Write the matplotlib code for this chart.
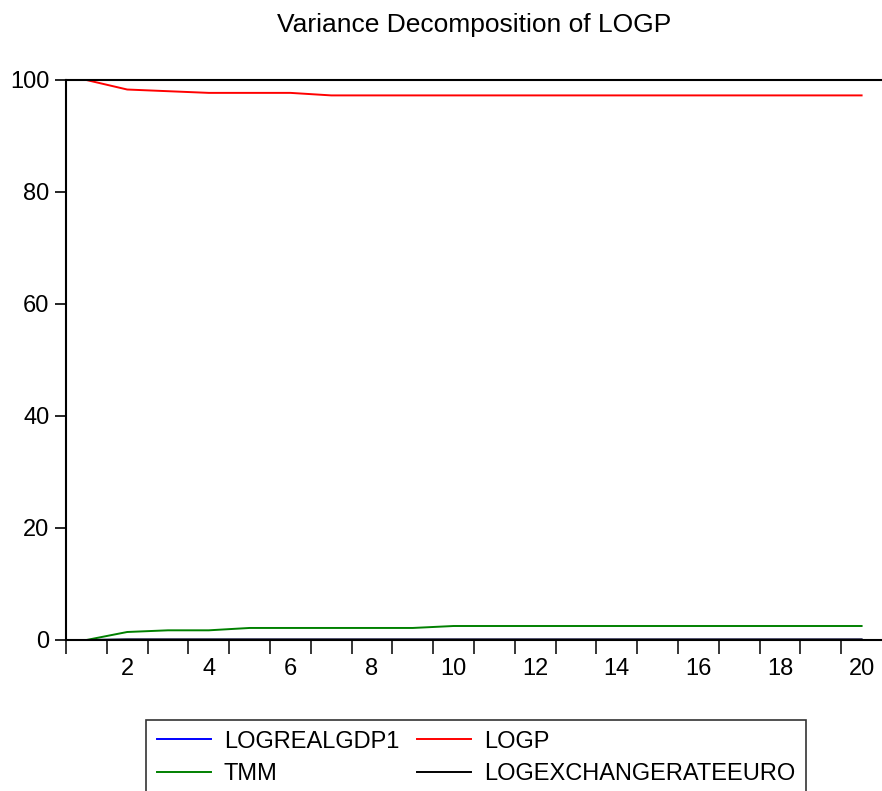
import matplotlib.pyplot as plt
import numpy as np

plt.rcParams['font.family'] = ['Liberation Sans', 'DejaVu Sans']

# periods and variance decomposition shares (percent)
periods = np.arange(1, 21)
logrealgdp1 = [0.0, 0.05, 0.05, 0.05, 0.05, 0.05, 0.05, 0.05, 0.05, 0.05,
               0.05, 0.05, 0.05, 0.05, 0.05, 0.05, 0.05, 0.05, 0.05, 0.05]
logp = [100.0, 98.3, 98.0, 97.7, 97.7, 97.7, 97.25, 97.25, 97.25, 97.25,
        97.25, 97.25, 97.25, 97.25, 97.25, 97.25, 97.25, 97.25, 97.25, 97.25]
tmm = [0.0, 1.43, 1.73, 1.73, 2.15, 2.15, 2.15, 2.15, 2.15, 2.5,
       2.5, 2.5, 2.5, 2.5, 2.5, 2.5, 2.5, 2.5, 2.5, 2.5]
logexch = [0.0, 0.1, 0.1, 0.1, 0.1, 0.1, 0.1, 0.1, 0.1, 0.1,
           0.1, 0.1, 0.1, 0.1, 0.1, 0.1, 0.1, 0.1, 0.1, 0.1]
xtick_labels = [2, 4, 6, 8, 10, 12, 14, 16, 18, 20]
ytick_labels = [0, 20, 40, 60, 80, 100]

fig = plt.figure(figsize=(8.82, 7.91), dpi=100)
ax = fig.add_axes([66/882, 1 - 640/791, 1 - 66/882, (640 - 80)/791])

l1, = ax.plot(periods, logrealgdp1, color='blue', lw=1.4, label='LOGREALGDP1')
l2, = ax.plot(periods, logp, color='red', lw=1.4, label='LOGP')
l3, = ax.plot(periods, tmm, color='green', lw=1.4, label='TMM')
l4, = ax.plot(periods, logexch, color='black', lw=1.4, label='LOGEXCHANGERATEEURO')

ax.set_xlim(0.5, 20.5)
ax.set_ylim(0, 100)

# ticks sit between periods, labels on even periods
ax.set_xticks(np.arange(0.5, 20.5, 1.0))
ax.set_xticklabels([])
ax.set_xticks(xtick_labels, minor=True)
ax.set_xticklabels([str(v) for v in xtick_labels], minor=True)
ax.tick_params(axis='x', which='major', direction='out', length=10, width=1.1)
ax.tick_params(axis='x', which='minor', length=0, labelsize=17, pad=13)
ax.set_yticks(ytick_labels)
ax.set_yticklabels([str(v) for v in ytick_labels])
ax.tick_params(axis='y', direction='out', length=8, width=1.2, labelsize=17, pad=4)

for s in ax.spines.values():
    s.set_linewidth(1.5)
ax.spines['right'].set_visible(False)

fig.text(474/882, 1 - 25/791, 'Variance Decomposition of LOGP', ha='center', va='center', fontsize=19)

# row-wise legend order: matplotlib fills columns first
leg = ax.legend([l1, l3, l2, l4], [l1.get_label(), l3.get_label(), l2.get_label(), l4.get_label()],
                loc='upper center', bbox_to_anchor=(476/882, 1 - 720/791),
                bbox_transform=fig.transFigure, ncol=2, fontsize=17,
                frameon=True, fancybox=False, edgecolor='black',
                handlelength=2.3, handletextpad=0.55, columnspacing=0.75,
                borderpad=0.45, borderaxespad=0, labelspacing=0.45)
leg.get_frame().set_linewidth(1.2)

fig.savefig('out.png', dpi=100)
